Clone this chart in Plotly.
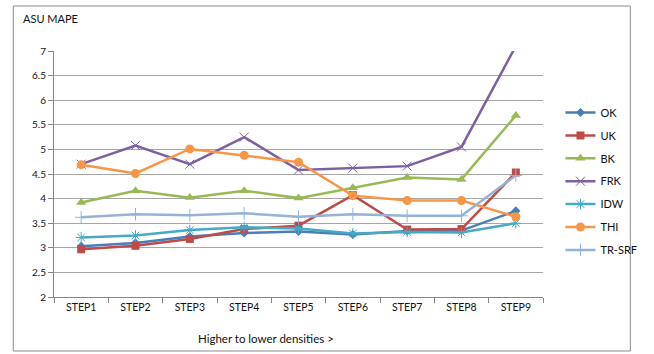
import plotly.graph_objects as go

# Categories and MAPE values per interpolation method
steps = ["STEP1", "STEP2", "STEP3", "STEP4", "STEP5", "STEP6", "STEP7", "STEP8", "STEP9"]
ok = [3.03, 3.10, 3.23, 3.30, 3.33, 3.27, 3.34, 3.35, 3.75]
uk = [2.97, 3.04, 3.18, 3.38, 3.45, 4.07, 3.37, 3.38, 4.53]
bk = [3.92, 4.16, 4.02, 4.16, 4.01, 4.22, 4.43, 4.39, 5.69]
frk = [4.70, 5.08, 4.70, 5.25, 4.58, 4.62, 4.66, 5.05, 7.10]
idw = [3.21, 3.25, 3.36, 3.42, 3.39, 3.29, 3.32, 3.31, 3.50]
thi = [4.69, 4.51, 5.01, 4.88, 4.74, 4.06, 3.96, 3.96, 3.63]
trsrf = [3.62, 3.68, 3.66, 3.70, 3.63, 3.68, 3.65, 3.65, 4.47]

y_ticks = [2, 2.5, 3, 3.5, 4, 4.5, 5, 5.5, 6, 6.5, 7]

W, H = 654, 354
L, R, T, B = 54, 96, 51, 57
PW, PH = W - L - R, H - T - B

def px_x(x):
    return (x - L) / PW

def px_y(y):
    return (H - B - y) / PH

FONT = "Lato, 'Open Sans', sans-serif"
TXT = "#111111"

series = [
    ("OK", ok, "#4A7EBB", "diamond", 7, 0),
    ("UK", uk, "#BE4B48", "square", 8, 0),
    ("BK", bk, "#98B954", "triangle-up", 9, 0),
    ("FRK", frk, "#7D60A0", "x-thin", 9, 1),
    ("IDW", idw, "#46AAC5", "asterisk", 9, 1),
    ("THI", thi, "#F79646", "circle", 9, 0),
    ("TR-SRF", trsrf, "#95B3D7", "cross-thin", 9, 1),
]

fig = go.Figure()
for name, vals, color, sym, size, thin in series:
    marker = dict(symbol=sym, size=size, color=color)
    if thin:
        marker["line"] = dict(color=color, width=1)
    fig.add_trace(go.Scatter(
        x=steps, y=vals, name=name, mode="lines+markers",
        line=dict(color=color, width=2.5),
        marker=marker, legendgroup=name,
    ))

fig.update_layout(
    width=W, height=H,
    margin=dict(l=L, r=R, t=T, b=B),
    paper_bgcolor="white", plot_bgcolor="white",
    font=dict(family=FONT, size=10, color=TXT),
    showlegend=True,
    legend=dict(
        x=px_x(576), y=px_y(98), xanchor="left", yanchor="top",
        font=dict(size=11, family=FONT, color=TXT),
        itemwidth=30, tracegroupgap=3.9,
        bgcolor="rgba(0,0,0,0)",
    ),
    xaxis=dict(
        type="category", showgrid=False, showline=True,
        linecolor="#868686", linewidth=1,
        ticks="outside", tickson="boundaries", ticklen=5, tickcolor="#868686",
        tickfont=dict(size=10.5), range=[-0.5, 8.5],
    ),
    yaxis=dict(
        range=[2, 7], tickvals=y_ticks, ticktext=[f"{v:g}" for v in y_ticks],
        showgrid=True, gridcolor="#A6A6A6", gridwidth=1,
        showline=True, linecolor="#868686", linewidth=1,
        ticks="outside", ticklen=5, tickcolor="#868686",
        tickfont=dict(size=10), zeroline=False,
    ),
    shapes=[dict(
        type="rect", xref="paper", yref="paper",
        x0=px_x(12), x1=px_x(648), y0=px_y(351), y1=px_y(6),
        line=dict(color="#8C8C8C", width=1), fillcolor="rgba(0,0,0,0)",
    )],
    annotations=[
        dict(text="ASU MAPE", xref="paper", yref="paper",
             x=px_x(20), y=px_y(18), xanchor="left", yanchor="middle",
             showarrow=False, font=dict(size=11, family=FONT, color=TXT)),
        dict(text="Higher to lower densities >", xref="paper", yref="paper",
             x=px_x(273), y=px_y(338), xanchor="center", yanchor="middle",
             showarrow=False, font=dict(size=11.5, family=FONT, color=TXT)),
    ],
)

fig.write_html("out.html")
